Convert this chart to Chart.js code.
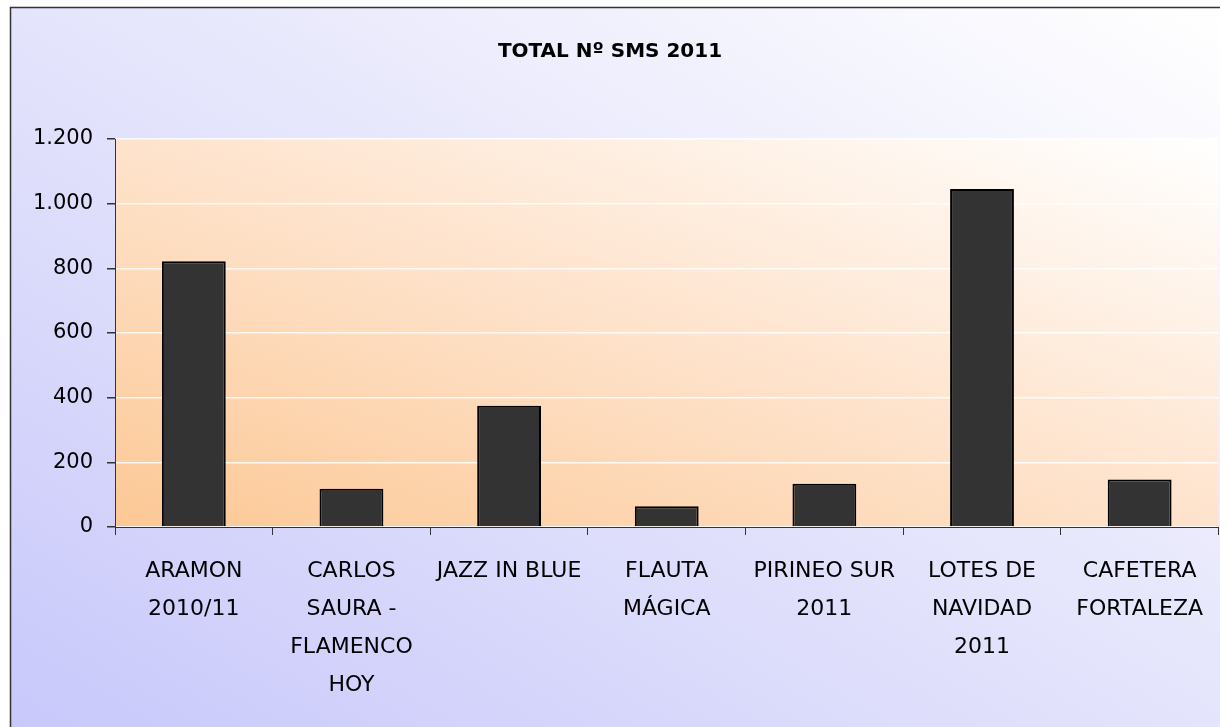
<!DOCTYPE html>
<html>
<head>
<meta charset="utf-8">
<script src="https://cdn.jsdelivr.net/npm/chart.js@4/dist/chart.umd.min.js"></script>
<style>
html,body{margin:0;padding:0;background:#fff;}
canvas{display:block;}
</style>
</head>
<body>
<canvas id="c" width="1220" height="727"></canvas>
<script>
// ---- data ----
const chartTitle = "TOTAL Nº SMS 2011";
const categories = [
  ["ARAMON", "2010/11"],
  ["CARLOS", "SAURA -", "FLAMENCO", "HOY"],
  ["JAZZ IN BLUE"],
  ["FLAUTA", "MÁGICA"],
  ["PIRINEO SUR", "2011"],
  ["LOTES DE", "NAVIDAD", "2011"],
  ["CAFETERA", "FORTALEZA"]
];
const smsValues = [822, 118, 375, 64, 134, 1045, 147];
const yTicks = [0, 200, 400, 600, 800, 1000, 1200];

function fmtThousands(v) {
  return String(v).replace(/\B(?=(\d{3})+(?!\d))/g, ".");
}

const FONT = "'DejaVu Sans', sans-serif";

// Diagonal gradient whose iso-lines run parallel to the top-left/bottom-right diagonal
function diagGradient(ctx, x, y, w, h, stops) {
  const L2 = w * w + h * h;
  const k = 2 * w * h / L2;
  const g = ctx.createLinearGradient(x, y + h, x + h * k, y + h - w * k);
  stops.forEach(s => g.addColorStop(s[0], s[1]));
  return g;
}

const bgPlugin = {
  id: 'bg',
  beforeDraw(chart) {
    const ctx = chart.ctx;
    const W = chart.width, H = chart.height;
    ctx.save();
    ctx.fillStyle = '#ffffff';
    ctx.fillRect(0, 0, W, H);
    ctx.fillStyle = diagGradient(ctx, 10, 7, W - 10, H - 7, [
      [0, '#c8c8fb'], [0.5, '#e4e4fc'], [1, '#ffffff']
    ]);
    ctx.fillRect(10, 7, W, H);
    ctx.strokeStyle = '#333333';
    ctx.lineWidth = 1.5;
    ctx.strokeRect(10.5, 7.5, W + 20, H + 20);
    const a = chart.chartArea;
    ctx.fillStyle = diagGradient(ctx, a.left, a.top, a.right - a.left, a.bottom - a.top, [
      [0, '#fcc895'], [0.5, '#fee3cc'], [1, '#ffffff']
    ]);
    ctx.fillRect(a.left, a.top, a.right - a.left, a.bottom - a.top);
    ctx.restore();
  }
};

new Chart(document.getElementById('c'), {
  type: 'bar',
  data: {
    labels: categories,
    datasets: [{
      data: smsValues,
      backgroundColor: '#333333',
      borderColor: '#000000',
      borderWidth: 2,
      barPercentage: 0.405,
      categoryPercentage: 1
    }]
  },
  options: {
    responsive: false,
    devicePixelRatio: 1,
    animation: false,
    layout: { padding: { left: 0, right: 0, top: 0, bottom: 0 } },
    plugins: {
      legend: { display: false },
      tooltip: { enabled: false },
      title: {
        display: true,
        text: chartTitle,
        color: '#000',
        font: { family: FONT, size: 20, weight: 'bold', lineHeight: 1.2 },
        padding: { top: 40, bottom: 75 }
      }
    },
    scales: {
      x: {
        grid: {
          offset: true,
          drawOnChartArea: false,
          drawTicks: true,
          tickLength: 8,
          tickColor: '#333333'
        },
        border: { color: '#333333', width: 1 },
        ticks: {
          color: '#000',
          autoSkip: false,
          maxRotation: 0,
          minRotation: 0,
          padding: 17,
          font: { family: FONT, size: 22, lineHeight: 38 / 22 }
        },
        afterFit(scale) { scale.height = 200; }
      },
      y: {
        min: 0,
        max: 1200,
        afterBuildTicks(scale) { scale.ticks = yTicks.map(v => ({ value: v })); },
        grid: {
          color: 'rgba(255,255,255,0.85)',
          lineWidth: 1.5,
          tickLength: 8,
          tickColor: '#333333'
        },
        border: { color: '#333333', width: 1 },
        ticks: {
          color: '#000',
          padding: 14,
          font: { family: FONT, size: 21 },
          callback: (v) => fmtThousands(v)
        },
        afterFit(scale) { scale.width = 115; }
      }
    }
  },
  plugins: [bgPlugin]
});
</script>
</body>
</html>
